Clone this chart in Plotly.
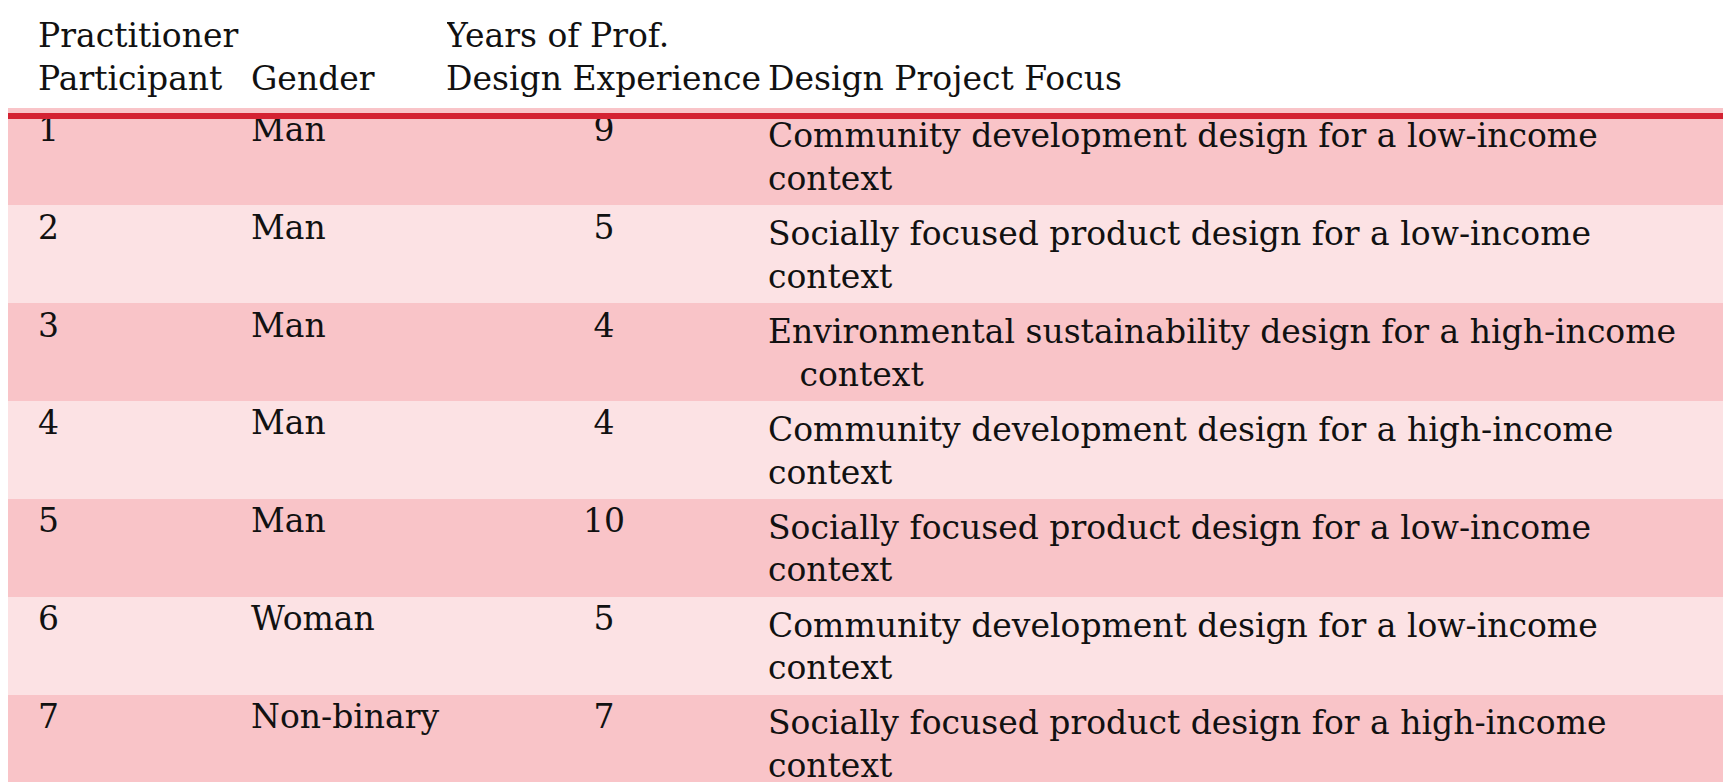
import plotly.graph_objects as go

participants = ["1", "2", "3", "4", "5", "6", "7", "8", "9", "10"]
genders = ["Man", "Man", "Man", "Man", "Man", "Woman", "Non-binary", "Woman", "Man", "Man"]
years = ["9", "5", "4", "4", "10", "5", "7", "5", "13", "10"]
focus = [
    "Community development design for a low-income context",
    "Socially focused product design for a low-income context",
    "Environmental sustainability design for a high-income<br>&nbsp;&nbsp;&nbsp;context",
    "Community development design for a high-income context",
    "Socially focused product design for a low-income context",
    "Community development design for a low-income context",
    "Socially focused product design for a high-income context",
    "Socially focused product design for a low-income context",
    "Community development design for a low-income context",
    "Socially focused product design for a high-income context",
]
headers = ["", "Practitioner<br>Participant", "&nbsp;<br>Gender",
           "Years of Prof.<br>Design Experience", "&nbsp;<br>Design Project Focus"]

DARK = "#f9c4c8"
LIGHT = "#fce2e4"
RED = "#d42232"
row_fill = [DARK if i % 2 == 0 else LIGHT for i in range(len(participants))]
font = dict(family="DejaVu Serif", size=33, color="#111111")

HEADER_H = 100
CELL_H = 62

fig = go.Figure(go.Table(
    columnwidth=[22, 213, 205, 312, 979],
    header=dict(
        values=headers,
        fill_color="white",
        line=dict(color="white", width=0),
        align=["left", "left", "left", "center", "left"],
        font=font,
        height=HEADER_H,
    ),
    cells=dict(
        values=[[""] * len(participants), participants, genders, years, focus],
        fill_color=[row_fill] * 5,
        line=dict(color=[row_fill] * 5, width=1),
        align=["left", "left", "left", "center", "left"],
        font=font,
        height=CELL_H,
    ),
    domain=dict(x=[0, 1], y=[0, 1]),
))

fig.update_layout(
    width=1731, height=782,
    margin=dict(l=0, r=0, t=0, b=0),
    paper_bgcolor="white",
    shapes=[
        dict(type="line", xref="paper", yref="paper", x0=0, x1=1,
             y0=1 - 108 / 782, y1=1 - 108 / 782, line=dict(color=RED, width=6)),
        dict(type="line", xref="paper", yref="paper", x0=0, x1=1,
             y0=1 - 777 / 782, y1=1 - 777 / 782, line=dict(color=RED, width=5)),
    ],
)

fig.write_html("out.html")
